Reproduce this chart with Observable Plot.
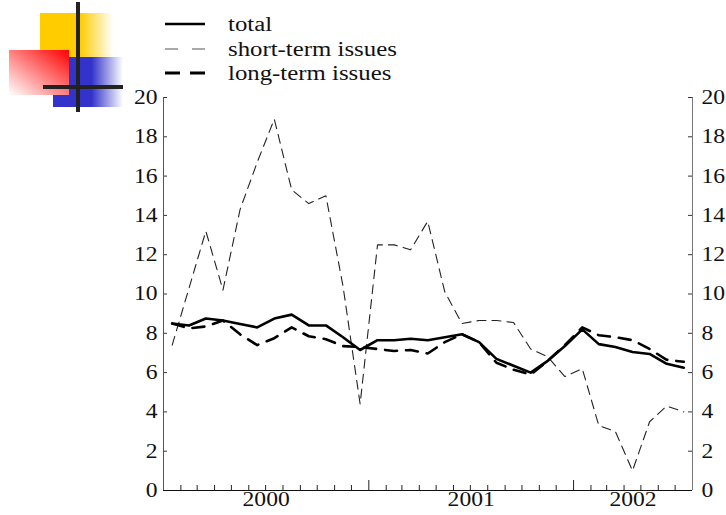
<!DOCTYPE html>
<html><head><meta charset="utf-8">
<script src="https://cdn.jsdelivr.net/npm/d3@7"></script>
<script src="https://cdn.jsdelivr.net/npm/@observablehq/plot@0.6"></script>
<style>
body{margin:0;background:#fff;}
#wrap{position:relative;width:726px;height:515px;overflow:hidden;background:#fff;font-family:'Liberation Serif','Times New Roman',serif;}
#legend,#chart{display:block;position:relative;}
#legend svg{display:block;margin-bottom:-8px;overflow:visible;}
#chart svg{display:block;}
#chart svg text, #legend svg text{font-family:'Liberation Serif','Times New Roman',serif;}
#logo{position:absolute;left:0;top:0;}
</style></head><body>
<div id="wrap">
  <div id="legend"></div>
  <div id="chart"></div>
  <svg id="logo" width="130" height="116" viewBox="0 0 130 116">
    <defs>
      <linearGradient id="gy" x1="0" x2="1" y1="0" y2="0">
        <stop offset="0" stop-color="#FFCC00"/><stop offset="0.55" stop-color="#FFCC00"/><stop offset="1" stop-color="#FFCC00" stop-opacity="0"/>
      </linearGradient>
      <linearGradient id="gr" x1="1" x2="0" y1="0" y2="1">
        <stop offset="0" stop-color="#FF0000"/><stop offset="1" stop-color="#FF0000" stop-opacity="0"/>
      </linearGradient>
      <linearGradient id="gb" x1="0" x2="1" y1="0" y2="0">
        <stop offset="0" stop-color="#3333CC"/><stop offset="0.55" stop-color="#3333CC"/><stop offset="1" stop-color="#3333CC" stop-opacity="0"/>
      </linearGradient>
    </defs>
    <rect x="40" y="13" width="73" height="45" fill="url(#gy)"/>
    <rect x="53" y="57" width="70" height="50" fill="url(#gb)"/>
    <rect x="9" y="50" width="60" height="45" fill="#fff"/>
    <rect x="9" y="50" width="60" height="45" fill="url(#gr)"/>
    <line x1="78" y1="2" x2="78" y2="112" stroke="#222" stroke-width="4"/>
    <line x1="43" y1="87" x2="123" y2="87" stroke="#222" stroke-width="4"/>
  </svg>
</div>
<script>
// ---- data ----
const months = ["2000-01","2000-02","2000-03","2000-04","2000-05","2000-06","2000-07","2000-08","2000-09","2000-10","2000-11","2000-12",
  "2001-01","2001-02","2001-03","2001-04","2001-05","2001-06","2001-07","2001-08","2001-09","2001-10","2001-11","2001-12",
  "2002-01","2002-02","2002-03","2002-04","2002-05","2002-06","2002-07"];
const total = [8.5, 8.4, 8.75, 8.65, 8.47, 8.3, 8.75, 8.95, 8.4, 8.4, 7.8, 7.15,
  7.65, 7.65, 7.72, 7.65, 7.8, 7.95, 7.55, 6.7, 6.35, 6.0, 6.6, 7.35,
  8.2, 7.45, 7.3, 7.05, 6.95, 6.45, 6.25];
const shortTerm = [7.4, 10.3, 13.2, 10.2, 14.3, 16.7, 18.9, 15.3, 14.6, 15.0, 10.4, 4.4,
  12.5, 12.5, 12.25, 13.7, 10.1, 8.5, 8.65, 8.65, 8.55, 7.2, 6.8, 5.8,
  6.2, 3.3, 3.0, 1.0, 3.5, 4.3, 4.0];
const longTerm = [8.5, 8.25, 8.35, 8.65, 7.95, 7.4, 7.75, 8.3, 7.85, 7.7, 7.35, 7.3,
  7.2, 7.1, 7.15, 6.97, 7.55, 7.95, 7.55, 6.5, 6.15, 5.9, 6.6, 7.4,
  8.3, 7.9, 7.8, 7.65, 7.2, 6.65, 6.55];
const seriesNames = ["total", "short-term issues", "long-term issues"];
const yTicks = [0, 2, 4, 6, 8, 10, 12, 14, 16, 18, 20];
const yearLabels = ["2000", "2001", "2002"];
const xStart = "2000-01", xEnd = "2002-08";

// ---- helpers ----
const FONT = "'Liberation Serif', 'Times New Roman', serif";
const parse = d3.utcParse("%Y-%m");
const midMonth = s => { const a = parse(s); return new Date((+a + +d3.utcMonth.offset(a, 1)) / 2); };
const rows = months.map((m, i) => ({date: midMonth(m), total: total[i], short: shortTerm[i], long: longTerm[i]}));
const x0 = parse(xStart), x1 = parse(xEnd);
const monthTicks = d3.utcMonth.range(d3.utcMonth.offset(x0, 1), x1);
const minorTicks = monthTicks.filter(d => d.getUTCMonth() !== 0);
const majorTicks = monthTicks.filter(d => d.getUTCMonth() === 0);
const yearMids = yearLabels.map(y => {
  const a = new Date(Date.UTC(+y, 0, 1)), b = new Date(Date.UTC(+y + 1, 0, 1));
  const s = a < x0 ? x0 : a, e = b > x1 ? x1 : b;
  return new Date((+s + +e) / 2);
});

function stretch(root, k) {
  root.querySelectorAll("text").forEach(t => {
    const L = t.getComputedTextLength();
    if (L > 0) { t.setAttribute("textLength", (L * k).toFixed(1)); t.setAttribute("lengthAdjust", "spacingAndGlyphs"); }
  });
}

// ---- legend ----
const styles = [
  {width: 2.6, dash: null, color: "#000"},
  {width: 1.1, dash: "13,14", color: "#555"},
  {width: 2.8, dash: "15,10", color: "#000"}
];
const leg = d3.select("#legend").append("svg").attr("width", 726).attr("height", 88)
  .style("font-family", FONT).style("font-size", "20px");
const lrow = leg.selectAll("g").data(seriesNames).join("g")
  .attr("transform", (d, i) => `translate(0,${[24, 49, 73][i]})`);
lrow.append("line").attr("x1", 165).attr("x2", 205).attr("y1", 0).attr("y2", 0)
  .attr("stroke", (d, i) => styles[i].color).attr("stroke-width", (d, i) => styles[i].width)
  .attr("stroke-dasharray", (d, i) => styles[i].dash);
lrow.append("text").attr("x", 228).attr("y", 7).attr("fill", "#111").text(d => d);

// ---- chart ----
const W = 726, H = 435, mL = 163, mR = 34, mT = 17, mB = 25;
const innerW = W - mL - mR, innerH = H - mT - mB;
const chart = Plot.plot({
  width: W, height: H, marginLeft: mL, marginRight: mR, marginTop: mT, marginBottom: mB,
  style: {fontFamily: FONT, fontSize: "20px", color: "#111", background: "transparent"},
  x: {type: "utc", domain: [x0, x1], axis: null},
  y: {domain: [0, 20], axis: null},
  marks: [
    Plot.axisY(yTicks, {anchor: "left", tickSize: 0, tickPadding: 6, label: null, fontFamily: FONT}),
    Plot.axisY(yTicks, {anchor: "right", tickSize: 0, tickPadding: 9, label: null, fontFamily: FONT}),
    Plot.axisX(yearMids, {anchor: "bottom", tickSize: 0, tickPadding: 1, tickFormat: d3.utcFormat("%Y"), label: null, fontFamily: FONT}),
    Plot.tickY(yTicks, {y: d => d, insetRight: innerW - 4, stroke: "#333"}),
    Plot.tickY(yTicks, {y: d => d, insetLeft: innerW - 4, stroke: "#333"}),
    Plot.tickX(minorTicks, {x: d => d, insetTop: innerH - 5, stroke: "#222"}),
    Plot.tickX(majorTicks, {x: d => d, insetTop: innerH - 10, stroke: "#222"}),
    Plot.ruleX([x0], {stroke: "#555"}),
    Plot.ruleX([x1], {stroke: "#777"}),
    Plot.ruleY([0], {stroke: "#111"}),
    Plot.lineY(rows, {x: "date", y: "short", stroke: "#222", strokeWidth: 1.1, strokeDasharray: "9,6"}),
    Plot.lineY(rows, {x: "date", y: "long", stroke: "#000", strokeWidth: 2.6, strokeDasharray: "12,9"}),
    Plot.lineY(rows, {x: "date", y: "total", stroke: "#000", strokeWidth: 2.6})
  ]
});
document.getElementById("chart").append(chart);
stretch(chart, 1.18);
stretch(leg.node(), 1.24);
</script>
</body></html>
